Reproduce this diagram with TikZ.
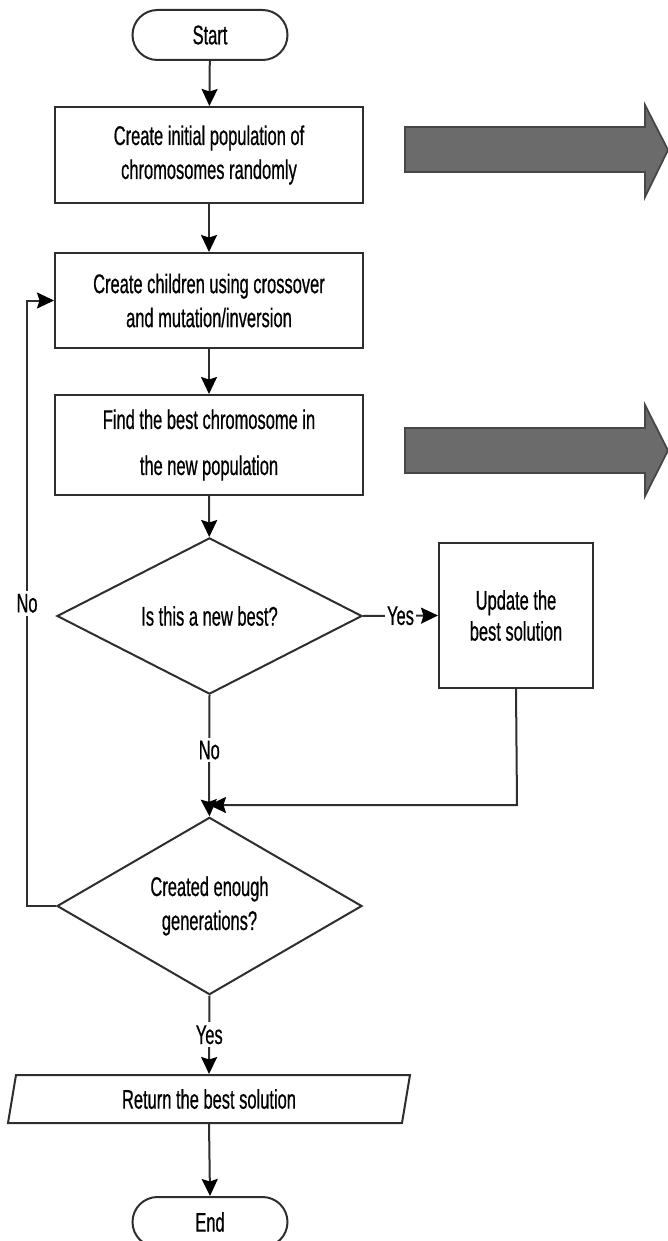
\documentclass[tikz,border=0pt]{standalone}
\usepackage{fontspec}
\setmainfont{Liberation Sans}[FakeStretch=0.61, FakeBold=0.6]
\usetikzlibrary{shapes.geometric,shapes.misc,arrows.meta}

\begin{document}
\begin{tikzpicture}[x=1pt,y=-1pt,
  txt/.style={font=\fontsize{27}{34}\selectfont},
  ln/.style={line width=2pt, draw=black!82},
  arr/.style={ln,-{Stealth[length=17pt,width=16pt,inset=2.5pt,color=black]}},
  term/.style={ln, txt, rounded rectangle, minimum width=155pt, minimum height=50pt, inner sep=0pt},
  proc/.style={ln, txt, rectangle, minimum width=308pt, inner sep=0pt, align=center},
  dec/.style={ln, txt, diamond, minimum width=305pt, minimum height=144pt, inner sep=0pt, align=center},
  lbl/.style={txt, fill=white, inner sep=3pt},
  bigarrow/.style={draw=black!72, line width=1.8pt, fill=black!58, line join=miter}
]
\useasboundingbox (0,0) rectangle (668,1241);

% flowchart nodes
\node[term] (start) at (210,35) {Start};
\node[proc, minimum height=96pt] (init) at (209,155)
  {Create initial population of\\chromosomes randomly};
\node[proc, minimum height=95pt] (child) at (209,300.5)
  {Create children using crossover\\and mutation/inversion};
\node[proc, minimum height=100pt] (find) at (209,445)
  {Find the best chromosome in\\[12pt]the new population};
\node[dec] (newbest) at (209.5,616) {Is this a new best?};
\node[ln, txt, rectangle, minimum width=154pt, minimum height=145pt, inner sep=0pt,
      align=center, font=\fontsize{27}{31}\selectfont] (update) at (516,615.5)
  {Update the\\best solution};
\node[dec] (enough) at (209.5,906) {Created enough\\generations?};
\node[ln, txt, trapezium, trapezium left angle=68, trapezium right angle=112,
      trapezium stretches body, minimum width=402pt, minimum height=48pt,
      inner sep=0pt] (ret) at (209,1099) {Return the best solution};
\node[term] (end) at (210,1222) {End};

% merge point and loop corners
\coordinate (merge) at (209,805);
\coordinate (updcorner) at (517,805);
\coordinate (loopbot) at (27,906);
\coordinate (looptop) at (27,300.5);

% wide grey arrows
\draw[bigarrow] (405,127) -- (645,127) -- (645,105) -- (668,150) -- (645,197)
  -- (645,172) -- (405,172) -- cycle;
\draw[bigarrow] (405,428) -- (645,428) -- (645,405) -- (668,450.5) -- (645,496)
  -- (645,473) -- (405,473) -- cycle;

% connectors
\draw[arr] (start) -- (init);
\draw[arr] (init) -- (child);
\draw[arr] (child) -- (find);
\draw[arr] (find) -- (newbest);
\draw[arr] (newbest.east) -- node[lbl, inner sep=2pt] {Yes} (update.west);
\draw[ln] (newbest.south) -- node[lbl, pos=0.5] {No} (merge);
\draw[arr] (merge) -- (enough.north);
\draw[arr] (update.south) -- (updcorner) -- (merge);
\draw[arr] (enough.west) -- (loopbot) -- node[lbl, pos=0.5] {No} (looptop) -- (child.west);
\draw[arr] (enough.south) -- node[lbl, pos=0.5] {Yes} (ret.north);
\draw[arr] (ret.south) -- (end.north);
\end{tikzpicture}
\end{document}
